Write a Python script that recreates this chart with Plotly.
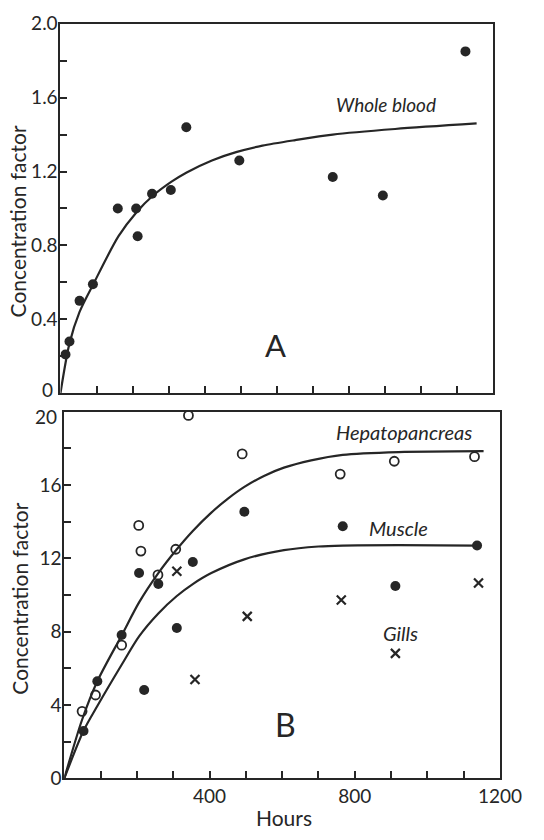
import plotly.graph_objects as go

# ---------------- Panel A: whole blood ----------------
a_hours = [14, 25, 53, 90, 159, 210, 214, 254, 306, 349, 496, 755, 894, 1123]
a_conc = [0.21, 0.28, 0.50, 0.59, 1.00, 1.00, 0.85, 1.08, 1.10, 1.44, 1.26, 1.17, 1.07, 1.85]

a_curve_hours = [0, 25, 53, 91, 161, 211, 257, 308, 350, 420, 487, 560, 651, 755, 928, 1154]
a_curve_conc = [0, 0.27, 0.44, 0.59, 0.85, 0.98, 1.07, 1.145, 1.195, 1.26, 1.305, 1.34, 1.37, 1.40, 1.43, 1.46]

# ---------------- Panel B ----------------
hep_hours = [49, 86, 158, 205, 211, 258, 307, 342, 490, 760, 909, 1130]
hep_conc = [3.66, 4.55, 7.27, 13.8, 12.4, 11.1, 12.5, 19.8, 17.7, 16.6, 17.3, 17.55]

mus_hours = [53, 91, 158, 206, 220, 259, 310, 354, 496, 767, 912, 1137]
mus_conc = [2.59, 5.30, 7.82, 11.2, 4.82, 10.6, 8.2, 11.8, 14.55, 13.75, 10.5, 12.7]

gill_hours = [310, 360, 504, 763, 912, 1141]
gill_conc = [11.3, 5.4, 8.84, 9.73, 6.82, 10.66]

hep_curve_hours = [0, 49, 91, 158, 206, 259, 310, 354, 405, 450, 496, 550, 605, 680, 767, 921, 1155]
hep_curve_conc = [0, 3.2, 5.3, 7.8, 9.6, 11.2, 12.5, 13.5, 14.5, 15.25, 15.9, 16.5, 16.95, 17.35, 17.65, 17.8, 17.85]

mus_curve_hours = [0, 53, 91, 158, 206, 259, 310, 354, 405, 496, 605, 700, 767, 921, 1137]
mus_curve_conc = [0, 2.6, 3.95, 6.2, 7.75, 9.0, 9.95, 10.6, 11.2, 11.95, 12.45, 12.65, 12.7, 12.72, 12.7]

# tick definitions
x_ticks = list(range(0, 1300, 100))
x_ticktext_b = ["400" if v == 400 else "800" if v == 800 else "1200" if v == 1200 else "" for v in x_ticks]
ya_ticks = [0, 0.2, 0.4, 0.6, 0.8, 1.0, 1.2, 1.4, 1.6, 1.8, 2.0]
ya_text = ["", "", "0.4", "", "0.8", "", "1.2", "", "1.6", "", "2.0"]   # "0" drawn separately
yb_ticks = [0, 2, 4, 6, 8, 10, 12, 14, 16, 18, 20]
yb_text = ["0", "", "4", "", "8", "", "12", "", "16", "", ""]           # "20" drawn separately

INK = "#262626"
FONT = "Lato"
W, H = 544, 840

fig = go.Figure()

curve_style = dict(color=INK, width=2.2, shape="spline", smoothing=0.8)

# Panel A
fig.add_trace(go.Scatter(x=a_curve_hours, y=a_curve_conc, mode="lines", line=curve_style,
                         xaxis="x", yaxis="y", hoverinfo="skip"))
fig.add_trace(go.Scatter(x=a_hours, y=a_conc, mode="markers",
                         marker=dict(color=INK, size=10, line=dict(width=0)),
                         xaxis="x", yaxis="y"))

# Panel B
fig.add_trace(go.Scatter(x=hep_curve_hours, y=hep_curve_conc, mode="lines", line=curve_style,
                         xaxis="x2", yaxis="y2", hoverinfo="skip"))
fig.add_trace(go.Scatter(x=mus_curve_hours, y=mus_curve_conc, mode="lines", line=curve_style,
                         xaxis="x2", yaxis="y2", hoverinfo="skip"))
fig.add_trace(go.Scatter(x=hep_hours, y=hep_conc, mode="markers",
                         marker=dict(symbol="circle-open", color=INK, size=9, line=dict(width=1.8, color=INK)),
                         xaxis="x2", yaxis="y2"))
fig.add_trace(go.Scatter(x=mus_hours, y=mus_conc, mode="markers",
                         marker=dict(color=INK, size=10, line=dict(width=0)),
                         xaxis="x2", yaxis="y2"))
fig.add_trace(go.Scatter(x=gill_hours, y=gill_conc, mode="markers",
                         marker=dict(symbol="x-thin", color=INK, size=9, line=dict(width=2.2, color=INK)),
                         xaxis="x2", yaxis="y2"))

axis_common = dict(showline=True, linecolor=INK, linewidth=2, mirror=True,
                   ticks="inside", ticklen=7, tickwidth=1.5, tickcolor=INK,
                   showgrid=False, zeroline=False, ticklabeloverflow="allow",
                   tickfont=dict(family=FONT, size=19, color=INK))

def px_x(p):
    return p / W

def px_y(p):
    return 1 - p / H

fig.update_layout(
    width=W, height=H,
    margin=dict(l=0, r=0, t=0, b=0),
    paper_bgcolor="white", plot_bgcolor="white",
    showlegend=False,
    xaxis=dict(axis_common, domain=[px_x(63), px_x(514)], range=[0, 1200],
               tickmode="array", tickvals=x_ticks, ticktext=["" for _ in x_ticks], anchor="y"),
    yaxis=dict(axis_common, domain=[px_y(392), px_y(12)], range=[0, 2.0],
               tickmode="array", tickvals=ya_ticks, ticktext=ya_text, anchor="x",
               ticklabelstandoff=-3),
    xaxis2=dict(axis_common, domain=[px_x(67), px_x(521)], range=[0, 1200],
                tickmode="array", tickvals=x_ticks, ticktext=x_ticktext_b, anchor="y2",
                ticklabelstandoff=0),
    yaxis2=dict(axis_common, domain=[px_y(788), px_y(411)], range=[0, 20],
                tickmode="array", tickvals=yb_ticks, ticktext=yb_text, anchor="x2",
                ticklabelstandoff=-3),
)

ann = []
# edge tick labels drawn apart so they don't collide between panels
ann.append(dict(text="0", xref="paper", yref="paper", x=px_x(57), y=px_y(388),
                xanchor="right", yanchor="middle", showarrow=False,
                font=dict(family=FONT, size=19, color=INK)))
ann.append(dict(text="20", xref="paper", yref="paper", x=px_x(61), y=px_y(416),
                xanchor="right", yanchor="middle", showarrow=False,
                font=dict(family=FONT, size=19, color=INK)))
# axis titles
ann.append(dict(text="Concentration factor", xref="paper", yref="paper",
                x=px_x(18), y=px_y(215), textangle=-90, showarrow=False,
                font=dict(family=FONT, size=21, color=INK), xanchor="center", yanchor="middle"))
ann.append(dict(text="Concentration factor", xref="paper", yref="paper",
                x=px_x(20), y=px_y(603), textangle=-90, showarrow=False,
                font=dict(family=FONT, size=21, color=INK), xanchor="center", yanchor="middle"))
ann.append(dict(text="Hours", xref="paper", yref="paper",
                x=px_x(296), y=px_y(828), showarrow=False,
                font=dict(family=FONT, size=21, color=INK), xanchor="center", yanchor="middle"))
# curve labels
ann.append(dict(text="<i>Whole blood</i>", xref="x", yref="y", x=903, y=1.56, showarrow=False,
                font=dict(family=FONT, size=19, color=INK)))
ann.append(dict(text="A", xref="x", yref="y", x=595, y=0.26, showarrow=False,
                font=dict(family=FONT, size=31, color=INK)))
ann.append(dict(text="<i>Hepatopancreas</i>", xref="x2", yref="y2", x=935, y=18.9, showarrow=False,
                font=dict(family=FONT, size=20, color=INK)))
ann.append(dict(text="<i>Muscle</i>", xref="x2", yref="y2", x=921, y=13.66, showarrow=False,
                font=dict(family=FONT, size=20, color=INK)))
ann.append(dict(text="<i>Gills</i>", xref="x2", yref="y2", x=926, y=7.95, showarrow=False,
                font=dict(family=FONT, size=20, color=INK)))
ann.append(dict(text="B", xref="x2", yref="y2", x=609, y=2.95, showarrow=False,
                font=dict(family=FONT, size=32, color=INK)))
fig.update_layout(annotations=ann)

fig.write_html("out.html")
